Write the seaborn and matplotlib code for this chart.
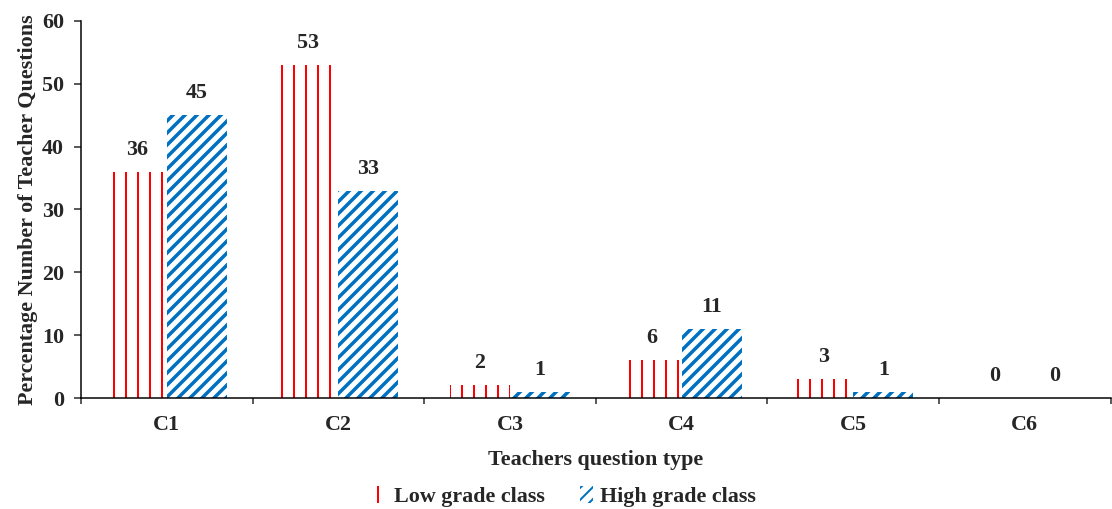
import matplotlib
matplotlib.use('Agg')
import matplotlib.pyplot as plt
import seaborn as sns
import pandas as pd
from matplotlib.ticker import FixedLocator

categories = ['C1', 'C2', 'C3', 'C4', 'C5', 'C6']
low_grade = [36, 53, 2, 6, 3, 0]
high_grade = [45, 33, 1, 11, 1, 0]
series_names = ['Low grade class', 'High grade class']
y_ticks = [0, 10, 20, 30, 40, 50, 60]

colors = ['#FF0000', '#0070C0']
hatches = ['|', '//']
hatch_widths = [2.0, 3.5]

sns.set_theme(style='white')
plt.rcParams['font.family'] = ['Liberation Serif', 'DejaVu Serif']
plt.rcParams['font.weight'] = 'bold'
plt.rcParams['hatch.linewidth'] = 2.0

df = pd.DataFrame({
    'category': categories * 2,
    'value': low_grade + high_grade,
    'series': [series_names[0]] * len(categories) + [series_names[1]] * len(categories),
})

fig = plt.figure(figsize=(1112 / 72, 509 / 72), dpi=72)
ax = fig.add_axes([0.0728, 0.218, 0.926, 0.741])

sns.barplot(data=df, x='category', y='value', hue='series', order=categories,
            hue_order=series_names, width=0.7, palette=colors, legend=False,
            ax=ax, err_kws={'linewidth': 0})

for cont, col, h, hw, name in zip(ax.containers, colors, hatches, hatch_widths, series_names):
    cont.set_label(name)
    for p in cont.patches:
        p.set_facecolor('white')
        p.set_edgecolor(col)
        p.set_hatch(h)
        p.set_linewidth(0)
        if hasattr(p, 'set_hatch_linewidth'):
            p.set_hatch_linewidth(hw)
        else:
            p._hatch_linewidth = hw
    ax.bar_label(cont, fmt='{:.0f}', padding=12, fontsize=22, fontweight='bold')

ax.set_ylim(0, 60)
ax.set_xlim(-0.5, len(categories) - 0.5)
ax.set_yticks(y_ticks)
ax.set_xticks(range(len(categories)))
ax.xaxis.set_minor_locator(FixedLocator([i - 0.5 for i in range(len(categories) + 1)]))
ax.tick_params(axis='x', which='major', length=0, labelsize=22, pad=17)
ax.tick_params(axis='x', which='minor', length=6, width=1.5, direction='out', bottom=True)
ax.tick_params(axis='y', length=7, width=1.5, direction='out', labelsize=22, pad=10, left=True)

for s in ['top', 'right']:
    ax.spines[s].set_visible(False)
for s in ['left', 'bottom']:
    ax.spines[s].set_color('black')
    ax.spines[s].set_linewidth(1.5)

ax.set_xlabel('Teachers question type', fontsize=22, fontweight='bold', labelpad=15)
ax.set_ylabel('Percentage Number of Teacher Questions', fontsize=22, fontweight='bold', labelpad=4)

leg = fig.legend(handles=ax.containers, labels=series_names, loc='lower center',
                 bbox_to_anchor=(0.508, -0.035), ncol=2, frameon=False, fontsize=22,
                 handlelength=0.6, handleheight=0.8, handletextpad=0.3, columnspacing=1.6)

fig.savefig('out.png', dpi=72)
plt.close(fig)
